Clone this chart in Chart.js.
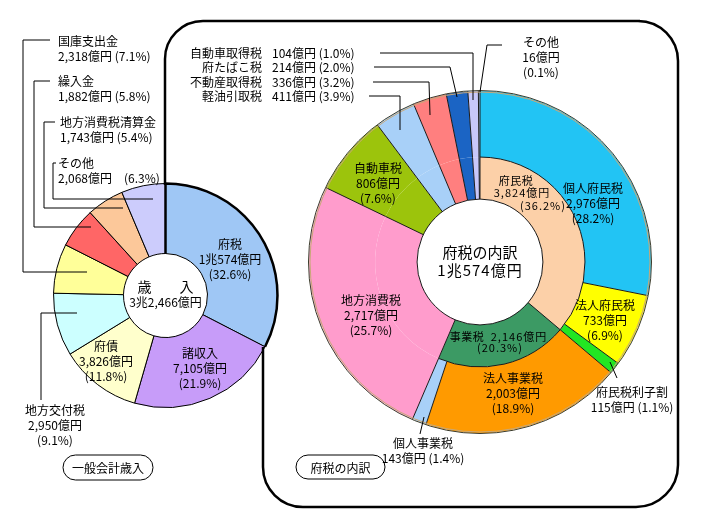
<!DOCTYPE html>
<html>
<head>
<meta charset="utf-8">
<script src="https://cdn.jsdelivr.net/npm/chart.js@4.4.1/dist/chart.umd.min.js"></script>
<style>
body { margin: 0; background: #fff; }
canvas { position: absolute; left: 0; top: 0; }
</style>
</head>
<body>
<canvas id="revenueChart" width="707" height="525"></canvas>
<canvas id="taxChart" width="707" height="525"></canvas>
<script>
// 一般会計歳入 (億円)
const revenueNames = ['府税', '諸収入', '府債', '地方交付税', '国庫支出金', '繰入金', '地方消費税清算金', 'その他'];
const revenueAmounts = [10574, 7105, 3826, 2950, 2318, 1882, 1743, 2068];
const revenuePercents = [32.6, 21.9, 11.8, 9.1, 7.1, 5.8, 5.4, 6.3];
const revenueColors = ['#9fc7f5', '#c79cf9', '#ffffcc', '#ccffff', '#ffff99', '#ff6666', '#fcc89a', '#ccccfc'];

// 府税の内訳 (億円)
const taxNames = ['個人府民税', '法人府民税', '府民税利子割', '法人事業税', '個人事業税', '地方消費税', '自動車税',
    '軽油引取税', '不動産取得税', '府たばこ税', '自動車取得税', 'その他'];
const taxAmounts = [2976, 733, 115, 2003, 143, 2717, 806, 411, 336, 214, 104, 16];
const taxPercents = [28.2, 6.9, 1.1, 18.9, 1.4, 25.7, 7.6, 3.9, 3.2, 2.0, 1.0, 0.1];
const taxColors = ['#22c4f4', '#ffff00', '#22e622', '#ff9a00', '#a8d0f8', '#ff9ccc', '#9cc40c',
    '#a8d0f8', '#ff7f7f', '#1b64c4', '#c8c8fa', '#a8d0f8'];

// 内側の輪 (府民税 = 最初の3項目, 事業税 = 次の2項目)
const groupNames = ['府民税', '事業税'];
const groupAmounts = [3824, 2146];
const groupPercents = [36.2, 20.3];
const groupColors = ['#fcd0a8', '#3c9a64'];

const FONT = '"Noto Sans CJK JP", "Noto Sans", sans-serif';

function oku(v) {
    if (v >= 10000) return Math.floor(v / 10000) + '兆' + (v % 10000).toLocaleString('en-US') + '億円';
    return v.toLocaleString('en-US') + '億円';
}
const pct = p => '(' + p.toFixed(1) + '%)';

function drawLines(ctx, lines, x, y, align, size, lh, spacing) {
    ctx.font = size + 'px ' + FONT;
    ctx.textAlign = align;
    ctx.textBaseline = 'middle';
    ctx.fillStyle = '#000';
    ctx.letterSpacing = (spacing || 0) + 'px';
    lines.forEach((t, i) => ctx.fillText(t, x, y + i * lh));
    ctx.letterSpacing = '0px';
}

function polyline(ctx, pts, width) {
    ctx.beginPath();
    ctx.lineWidth = width || 1;
    ctx.strokeStyle = '#000';
    pts.forEach((p, i) => i ? ctx.lineTo(p[0], p[1]) : ctx.moveTo(p[0], p[1]));
    ctx.stroke();
}

function pill(ctx, x, y, w, h, text) {
    ctx.beginPath();
    ctx.lineWidth = 1;
    ctx.strokeStyle = '#000';
    ctx.roundRect(x, y, w, h, h / 2);
    ctx.stroke();
    drawLines(ctx, [text], x + w / 2, y + h / 2 + 1, 'center', 12, 0);
}

// ラベルの配置 (左: 歳入)
const revenueLabelPos = [
    {x: 230, y: 244, align: 'center'},
    {x: 200, y: 353, align: 'center'},
    {x: 106, y: 346, align: 'center'},
    {x: 55, y: 410, align: 'center'},
    {x: 58, y: 41, align: 'left'},
    {x: 58, y: 81, align: 'left'},
    {x: 60, y: 122, align: 'left'},
    {x: 58, y: 163, align: 'left'}
];
const revenueLeaders = [
    null, null, null,
    [[77, 313], [41, 313], [41, 400]],
    [[50, 40], [23, 40], [23, 272], [87, 272]],
    [[50, 81], [34, 81], [34, 227], [91, 227]],
    [[55, 122], [44, 122], [44, 208], [123, 208]],
    [[56, 163], [53, 163], [53, 199], [153, 199]]
];

const revenueDecor = {
    id: 'revenueDecor',
    afterDatasetsDraw(chart) {
        const ctx = chart.ctx;
        const arc = chart.getDatasetMeta(0).data[0];
        const {x, y, startAngle, endAngle, innerRadius, outerRadius} =
            arc.getProps(['x', 'y', 'startAngle', 'endAngle', 'innerRadius', 'outerRadius'], true);
        ctx.save();
        ctx.beginPath();
        ctx.lineWidth = 2.5;
        ctx.strokeStyle = '#000';
        ctx.moveTo(x + innerRadius * Math.cos(startAngle), y + innerRadius * Math.sin(startAngle));
        ctx.lineTo(x + outerRadius * Math.cos(startAngle), y + outerRadius * Math.sin(startAngle));
        ctx.arc(x, y, outerRadius, startAngle, endAngle);
        ctx.stroke();

        revenueLeaders.forEach(l => l && polyline(ctx, l));
        revenueNames.forEach((name, i) => {
            const p = revenueLabelPos[i];
            let lines;
            if (p.align === 'left') {
                const gap = i === 7 ? '　' : ' ';
                lines = [name, oku(revenueAmounts[i]) + gap + pct(revenuePercents[i])];
            } else {
                lines = [name, oku(revenueAmounts[i]), pct(revenuePercents[i])];
            }
            drawLines(ctx, lines, p.x, p.y, p.align, 12, 15);
        });
        const total = revenueAmounts.reduce((a, b) => a + b, 0);
        drawLines(ctx, ['歳　　入'], x, 287, 'center', 14, 0);
        drawLines(ctx, [oku(total)], x, 302, 'center', 12, 0);
        pill(ctx, 63, 455, 90, 25, '一般会計歳入');
        ctx.restore();
    }
};

new Chart(document.getElementById('revenueChart'), {
    type: 'doughnut',
    data: {
        labels: revenueNames,
        datasets: [{
            data: revenueAmounts,
            backgroundColor: revenueColors,
            borderColor: '#000',
            borderWidth: 1
        }]
    },
    options: {
        responsive: false,
        animation: false,
        cutout: '37.5%',
        layout: {padding: {left: 53, top: 183, right: 429, bottom: 117}},
        plugins: {legend: {display: false}, tooltip: {enabled: false}}
    },
    plugins: [revenueDecor]
});

// ラベルの配置 (右: 府税の内訳)
const taxLabelPos = [
    {x: 593, y: 188, align: 'center'},
    {x: 605, y: 305, align: 'center'},
    {x: 632, y: 392, align: 'center', two: true},
    {x: 513, y: 378, align: 'center'},
    {x: 423, y: 443, align: 'center', two: true},
    {x: 371, y: 300, align: 'center'},
    {x: 378, y: 168, align: 'center'},
    {x: 262, y: 96, align: 'list'},
    {x: 262, y: 82, align: 'list'},
    {x: 262, y: 67, align: 'list'},
    {x: 262, y: 53, align: 'list'},
    {x: 541, y: 42, align: 'center'}
];
const taxLeaders = [
    null, null,
    [[610, 362], [617, 378]],
    null,
    [[424, 417], [420, 434]],
    null, null,
    [[369, 96], [400, 96], [400, 130]],
    [[373, 82], [429, 82], [430, 115]],
    [[374, 67], [450, 67], [457, 97]],
    [[380, 53], [473, 53], [473, 100]],
    [[502, 45], [487, 45], [480, 92]]
];

function radial(ctx, x, y, a, r1, r2) {
    ctx.moveTo(x + r1 * Math.cos(a), y + r1 * Math.sin(a));
    ctx.lineTo(x + r2 * Math.cos(a), y + r2 * Math.sin(a));
}

const taxDecor = {
    id: 'taxDecor',
    afterDatasetsDraw(chart) {
        const ctx = chart.ctx;
        const keys = ['x', 'y', 'startAngle', 'endAngle', 'innerRadius', 'outerRadius'];
        const outer = chart.getDatasetMeta(0).data.map(a => a.getProps(keys, true));
        const inner = chart.getDatasetMeta(1).data.map(a => a.getProps(keys, true));
        const cx = outer[0].x, cy = outer[0].y;
        ctx.save();
        ctx.strokeStyle = '#1a1a1a';
        ctx.lineWidth = 1;
        ctx.beginPath();
        outer.forEach(a => radial(ctx, cx, cy, a.startAngle, a.innerRadius, a.outerRadius));
        inner.forEach(a => radial(ctx, cx, cy, a.startAngle, a.innerRadius, a.outerRadius));
        ctx.stroke();
        inner.slice(0, groupAmounts.length).forEach(a => {
            ctx.beginPath();
            ctx.arc(cx, cy, a.outerRadius, a.startAngle, a.endAngle);
            ctx.stroke();
        });
        ctx.beginPath();
        ctx.arc(cx, cy, inner[0].innerRadius, 0, Math.PI * 2);
        ctx.stroke();
        ctx.beginPath();
        ctx.strokeStyle = '#c8a878';
        ctx.lineWidth = 1;
        ctx.arc(cx, cy, outer[0].outerRadius - 1, 0, Math.PI * 2);
        ctx.stroke();
        ctx.beginPath();
        ctx.strokeStyle = '#3a3a2a';
        ctx.arc(cx, cy, outer[0].outerRadius + 0.5, 0, Math.PI * 2);
        ctx.stroke();

        // 府税の内訳の枠
        ctx.beginPath();
        ctx.lineWidth = 2.5;
        ctx.strokeStyle = '#000';
        ctx.moveTo(165, 185);
        ctx.lineTo(165, 60);
        ctx.arcTo(165, 21, 205, 21, 38);
        ctx.lineTo(640, 21);
        ctx.arcTo(678, 21, 678, 61, 40);
        ctx.lineTo(678, 465);
        ctx.arcTo(678, 507, 636, 507, 42);
        ctx.lineTo(303, 507);
        ctx.arcTo(263, 507, 263, 467, 40);
        ctx.lineTo(263, 347);
        ctx.stroke();

        taxLeaders.forEach(l => l && polyline(ctx, l));
        taxNames.forEach((name, i) => {
            const p = taxLabelPos[i];
            if (p.align === 'list') {
                drawLines(ctx, [name], p.x, p.y, 'right', 12, 0);
                drawLines(ctx, [oku(taxAmounts[i]) + ' ' + pct(taxPercents[i])], p.x + 10, p.y, 'left', 12, 0);
            } else if (p.two) {
                drawLines(ctx, [name, oku(taxAmounts[i]) + ' ' + pct(taxPercents[i])], p.x, p.y, 'center', 12, 15);
            } else {
                drawLines(ctx, [name, oku(taxAmounts[i]), pct(taxPercents[i])], p.x, p.y, 'center', 12, 15);
            }
        });
        drawLines(ctx, [groupNames[0]], 516, 181, 'center', 11, 0, 0.5);
        drawLines(ctx, [oku(groupAmounts[0])], 522, 193, 'center', 11, 0, 1);
        drawLines(ctx, [pct(groupPercents[0])], 543, 206, 'center', 11, 0, 1);
        drawLines(ctx, [groupNames[1]], 467, 337, 'center', 11, 0, 0.5);
        drawLines(ctx, [oku(groupAmounts[1])], 519, 337, 'center', 11, 0, 1);
        drawLines(ctx, [pct(groupPercents[1])], 500, 348, 'center', 11, 0, 1);

        const total = groupAmounts.reduce((a, b) => a + b, 0) + taxAmounts.slice(5).reduce((a, b) => a + b, 0);
        drawLines(ctx, ['府税の内訳'], cx, 252, 'center', 15, 0);
        drawLines(ctx, [oku(total)], cx, 270, 'center', 15, 0, 1);
        pill(ctx, 296, 455, 89, 24, '府税の内訳');
        ctx.restore();
    }
};

new Chart(document.getElementById('taxChart'), {
    type: 'doughnut',
    data: {
        labels: taxNames,
        datasets: [{
            data: taxAmounts,
            backgroundColor: taxColors,
            borderWidth: 0,
            weight: 66
        }, {
            data: [...groupAmounts, ...taxAmounts.slice(5)],
            backgroundColor: [...groupColors, ...taxColors.slice(5)],
            borderWidth: 0,
            weight: 42
        }]
    },
    options: {
        responsive: false,
        animation: false,
        cutout: '36.8%',
        layout: {padding: {left: 309, top: 91, right: 56, bottom: 92}},
        plugins: {legend: {display: false}, tooltip: {enabled: false}}
    },
    plugins: [taxDecor]
});
</script>
</body>
</html>
